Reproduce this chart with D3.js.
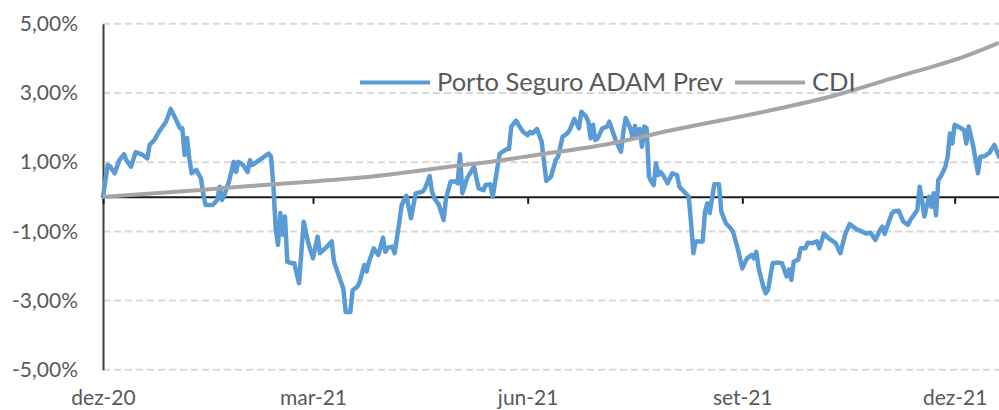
<!DOCTYPE html>
<html>
<head>
<meta charset="utf-8">
<script src="https://cdn.jsdelivr.net/npm/d3@7"></script>
<style>
  body { margin: 0; background: #fff; }
  text { font-family: Lato, "Open Sans", sans-serif; fill: #595959; }
</style>
</head>
<body>
<svg id="chart" width="999" height="410"></svg>
<script>
// fund: accumulated return (%)
var fund = [
  ['2020-12-30', 0.00], ['2021-01-01', 0.92], ['2021-01-02', 0.88], ['2021-01-04', 0.68],
  ['2021-01-06', 1.06], ['2021-01-08', 1.23], ['2021-01-09', 1.06], ['2021-01-11', 0.87],
  ['2021-01-13', 1.29], ['2021-01-16', 1.21], ['2021-01-18', 1.11], ['2021-01-19', 1.50],
  ['2021-01-21', 1.64], ['2021-01-23', 1.88], ['2021-01-26', 2.17], ['2021-01-28', 2.54],
  ['2021-01-30', 2.27], ['2021-02-01', 1.98], ['2021-02-02', 1.98], ['2021-02-03', 1.21],
  ['2021-02-04', 1.70], ['2021-02-05', 1.10], ['2021-02-06', 0.68], ['2021-02-08', 0.78],
  ['2021-02-10', 0.53], ['2021-02-11', 0.05], ['2021-02-12', -0.24], ['2021-02-15', -0.24],
  ['2021-02-17', -0.09], ['2021-02-18', 0.29], ['2021-02-19', -0.09], ['2021-02-20', 0.05],
  ['2021-02-22', 0.44], ['2021-02-24', 1.01], ['2021-02-25', 0.72], ['2021-02-26', 1.01],
  ['2021-02-28', 0.92], ['2021-03-02', 0.72], ['2021-03-03', 1.06], ['2021-03-04', 0.92],
  ['2021-03-07', 1.06], ['2021-03-11', 1.25], ['2021-03-12', 1.16], ['2021-03-13', 0.34],
  ['2021-03-14', -0.91], ['2021-03-15', -1.39], ['2021-03-16', -0.47], ['2021-03-17', -1.10],
  ['2021-03-18', -0.57], ['2021-03-19', -1.88], ['2021-03-21', -1.92], ['2021-03-22', -1.92],
  ['2021-03-24', -2.50], ['2021-03-26', -0.72], ['2021-03-28', -1.34], ['2021-03-30', -1.78],
  ['2021-04-01', -1.15], ['2021-04-02', -1.63], ['2021-04-05', -1.44], ['2021-04-07', -1.29],
  ['2021-04-08', -1.88], ['2021-04-10', -2.27], ['2021-04-12', -2.65], ['2021-04-13', -3.33],
  ['2021-04-15', -3.33], ['2021-04-16', -2.70], ['2021-04-18', -2.60], ['2021-04-19', -2.46],
  ['2021-04-21', -1.97], ['2021-04-22', -2.16], ['2021-04-23', -1.88], ['2021-04-25', -1.49],
  ['2021-04-27', -1.68], ['2021-04-28', -1.44], ['2021-04-29', -1.18], ['2021-04-30', -1.59],
  ['2021-05-01', -1.47], ['2021-05-03', -1.44], ['2021-05-04', -1.63], ['2021-05-06', -0.72],
  ['2021-05-07', -0.24], ['2021-05-09', 0.03], ['2021-05-11', -0.62], ['2021-05-13', 0.10],
  ['2021-05-16', 0.15], ['2021-05-17', 0.24], ['2021-05-19', 0.60], ['2021-05-20', 0.15],
  ['2021-05-21', -0.04], ['2021-05-23', -0.24], ['2021-05-25', -0.67], ['2021-05-26', -0.04],
  ['2021-05-28', 0.44], ['2021-05-30', 0.44], ['2021-05-31', 0.39], ['2021-06-01', 1.23],
  ['2021-06-02', 0.10], ['2021-06-04', 0.53], ['2021-06-07', 0.87], ['2021-06-09', 0.24],
  ['2021-06-11', 0.19], ['2021-06-12', 0.34], ['2021-06-14', 0.36], ['2021-06-15', 0.00],
  ['2021-06-17', 0.82], ['2021-06-18', 1.25], ['2021-06-21', 1.38], ['2021-06-22', 1.38],
  ['2021-06-23', 2.03], ['2021-06-25', 2.20], ['2021-06-27', 1.98], ['2021-06-28', 1.88],
  ['2021-06-30', 1.78], ['2021-07-01', 1.88], ['2021-07-02', 1.83], ['2021-07-04', 1.96],
  ['2021-07-06', 1.59], ['2021-07-07', 1.01], ['2021-07-08', 0.46], ['2021-07-10', 0.58],
  ['2021-07-12', 1.06], ['2021-07-13', 1.16], ['2021-07-15', 1.74], ['2021-07-17', 1.83],
  ['2021-07-18', 1.93], ['2021-07-20', 2.25], ['2021-07-21', 2.12], ['2021-07-22', 1.98],
  ['2021-07-23', 2.46], ['2021-07-25', 2.32], ['2021-07-26', 2.17], ['2021-07-27', 1.69],
  ['2021-07-28', 2.08], ['2021-07-29', 1.64], ['2021-07-30', 1.69], ['2021-08-01', 1.98],
  ['2021-08-03', 2.03], ['2021-08-04', 2.17], ['2021-08-06', 1.78], ['2021-08-07', 1.59],
  ['2021-08-09', 1.30], ['2021-08-10', 1.88], ['2021-08-11', 2.28], ['2021-08-13', 1.98],
  ['2021-08-14', 1.69], ['2021-08-15', 2.05], ['2021-08-16', 1.74], ['2021-08-17', 1.96],
  ['2021-08-18', 1.45], ['2021-08-19', 2.03], ['2021-08-20', 1.98], ['2021-08-21', 0.58],
  ['2021-08-22', 0.44], ['2021-08-23', 0.34], ['2021-08-24', 0.97], ['2021-08-25', 0.63],
  ['2021-08-26', 0.71], ['2021-08-27', 0.63], ['2021-08-29', 0.39], ['2021-08-31', 0.68],
  ['2021-09-02', 0.63], ['2021-09-03', 0.29], ['2021-09-05', 0.15], ['2021-09-07', 0.00],
  ['2021-09-08', -0.72], ['2021-09-09', -1.63], ['2021-09-10', -1.29], ['2021-09-13', -1.29],
  ['2021-09-14', -0.43], ['2021-09-15', -0.19], ['2021-09-16', -0.47], ['2021-09-18', 0.36],
  ['2021-09-20', 0.36], ['2021-09-21', -0.43], ['2021-09-23', -0.77], ['2021-09-25', -0.91],
  ['2021-09-26', -1.01], ['2021-09-28', -1.49], ['2021-09-30', -2.07], ['2021-10-02', -1.78],
  ['2021-10-04', -1.68], ['2021-10-05', -1.78], ['2021-10-06', -1.59], ['2021-10-07', -2.07],
  ['2021-10-09', -2.60], ['2021-10-10', -2.79], ['2021-10-11', -2.69], ['2021-10-13', -1.92],
  ['2021-10-15', -1.90], ['2021-10-17', -1.92], ['2021-10-19', -2.30], ['2021-10-20', -2.10],
  ['2021-10-21', -2.40], ['2021-10-22', -1.88], ['2021-10-24', -1.81], ['2021-10-25', -1.49],
  ['2021-10-27', -1.49], ['2021-10-28', -1.33], ['2021-10-30', -1.34], ['2021-11-01', -1.29],
  ['2021-11-02', -1.49], ['2021-11-04', -1.06], ['2021-11-06', -1.20], ['2021-11-09', -1.34],
  ['2021-11-11', -1.63], ['2021-11-13', -1.10], ['2021-11-15', -0.79], ['2021-11-18', -0.94],
  ['2021-11-20', -1.00], ['2021-11-22', -1.06], ['2021-11-24', -1.04], ['2021-11-26', -1.25],
  ['2021-11-28', -0.96], ['2021-11-29', -0.86], ['2021-11-30', -1.07], ['2021-12-03', -0.49],
  ['2021-12-04', -0.42], ['2021-12-06', -0.40], ['2021-12-08', -0.72], ['2021-12-10', -0.81],
  ['2021-12-11', -0.67], ['2021-12-14', -0.38], ['2021-12-15', 0.29], ['2021-12-16', -0.09],
  ['2021-12-17', -0.57], ['2021-12-19', 0.00], ['2021-12-20', -0.29], ['2021-12-21', 0.10],
  ['2021-12-22', -0.53], ['2021-12-23', 0.49], ['2021-12-24', 0.58], ['2021-12-26', 0.87],
  ['2021-12-27', 1.16], ['2021-12-28', 1.83], ['2021-12-29', 1.54], ['2021-12-30', 2.08],
  ['2022-01-01', 2.01], ['2022-01-03', 1.93], ['2022-01-04', 1.54], ['2022-01-05', 2.03],
  ['2022-01-07', 1.45], ['2022-01-09', 0.68], ['2022-01-10', 1.16], ['2022-01-12', 1.18],
  ['2022-01-14', 1.28], ['2022-01-16', 1.50], ['2022-01-18', 1.16]
]

var cdi = [
  ['2020-12-30', 0.00], ['2021-02-10', 0.20], ['2021-03-03', 0.31], ['2021-04-02', 0.46],
  ['2021-04-15', 0.53], ['2021-05-01', 0.64], ['2021-05-29', 0.88], ['2021-06-18', 1.05],
  ['2021-06-27', 1.14], ['2021-07-05', 1.22], ['2021-08-03', 1.52], ['2021-08-31', 1.93],
  ['2021-10-10', 2.47], ['2021-11-07', 2.90], ['2021-12-06', 3.48], ['2022-01-03', 4.05],
  ['2022-01-18', 4.45]
]

var seriesNames = ['Porto Seguro ADAM Prev', 'CDI']
var seriesColors = ['#5b9bd5', '#a5a5a5']
var yTicks = [5, 3, 1, -1, -3, -5]
var xTickDates = ['2020-12-30', '2021-03-30', '2021-06-30', '2021-09-30', '2021-12-30']
var xTickLabels = ['dez-20', 'mar-21', 'jun-21', 'set-21', 'dez-21']

var parse = d3.timeParse('%Y-%m-%d')
var svg = d3.select('#chart')

var plotLeft = 103, plotRight = 999, plotTop = 23.8, plotBottom = 369.8

var x = d3.scaleTime()
  .domain([parse('2020-12-30'), parse('2022-01-18')])
  .range([plotLeft, plotRight])
var y = d3.scaleLinear().domain([-5, 5]).range([plotBottom, plotTop])

var pct = function(d){ return d3.format('.2f')(d).replace('.', ',').replace('\u2212', '-') + '%' }

// dashed gridlines
svg.append('g').selectAll('line').data(yTicks).join('line')
  .attr('x1', plotLeft).attr('x2', plotRight)
  .attr('y1', y).attr('y2', y)
  .attr('stroke', '#d9d9d9').attr('stroke-width', 2)
  .attr('stroke-dasharray', '7,4')

// y axis
var yAxis = svg.append('g')
  .attr('transform', 'translate(' + plotLeft + ',0)')
  .call(d3.axisLeft(y).tickValues(yTicks).tickSize(0).tickSizeOuter(0).tickPadding(25).tickFormat(pct))
yAxis.select('.domain').attr('stroke', '#404040').attr('stroke-width', 2)
yAxis.selectAll('text').style('font-size', '21px').attr('fill', '#595959')

// zero line with tick marks
var xDates = xTickDates.map(parse)
var zeroAxis = svg.append('g')
  .attr('transform', 'translate(0,' + y(0) + ')')
  .call(d3.axisBottom(x).tickValues(xDates).tickSize(7).tickSizeOuter(0).tickFormat(''))
zeroAxis.select('.domain').attr('stroke', '#1a1a1a').attr('stroke-width', 2)
zeroAxis.selectAll('.tick line').attr('stroke', '#1a1a1a').attr('stroke-width', 2)

// month labels at the bottom
var labelAxis = svg.append('g')
  .attr('transform', 'translate(0,' + plotBottom + ')')
  .call(d3.axisBottom(x).tickValues(xDates).tickSize(0).tickPadding(20)
    .tickFormat(function(d, i){ return xTickLabels[i] }))
labelAxis.select('.domain').remove()
labelAxis.selectAll('text').style('font-size', '21px').attr('fill', '#595959')

var line = d3.line()
  .x(function(d){ return x(parse(d[0])) })
  .y(function(d){ return y(d[1]) })

svg.append('path').datum(fund)
  .attr('d', line).attr('fill', 'none')
  .attr('stroke', seriesColors[0]).attr('stroke-width', 4.5)
  .attr('stroke-linejoin', 'round').attr('stroke-linecap', 'round')

svg.append('path').datum(cdi)
  .attr('d', line.curve(d3.curveMonotoneX)).attr('fill', 'none')
  .attr('stroke', seriesColors[1]).attr('stroke-width', 4)
  .attr('stroke-linejoin', 'round')

// legend
var legendX = [360, 735]
var legend = svg.append('g').selectAll('g').data(seriesNames).join('g')
  .attr('transform', function(d, i){ return 'translate(' + legendX[i] + ',82.5)' })
legend.append('line')
  .attr('x1', 0).attr('x2', 70)
  .attr('stroke', function(d, i){ return seriesColors[i] })
  .attr('stroke-width', 4)
legend.append('text')
  .attr('x', 77).attr('dy', '0.35em')
  .style('font-size', '25.5px')
  .text(function(d){ return d })
</script>
</body>
</html>
